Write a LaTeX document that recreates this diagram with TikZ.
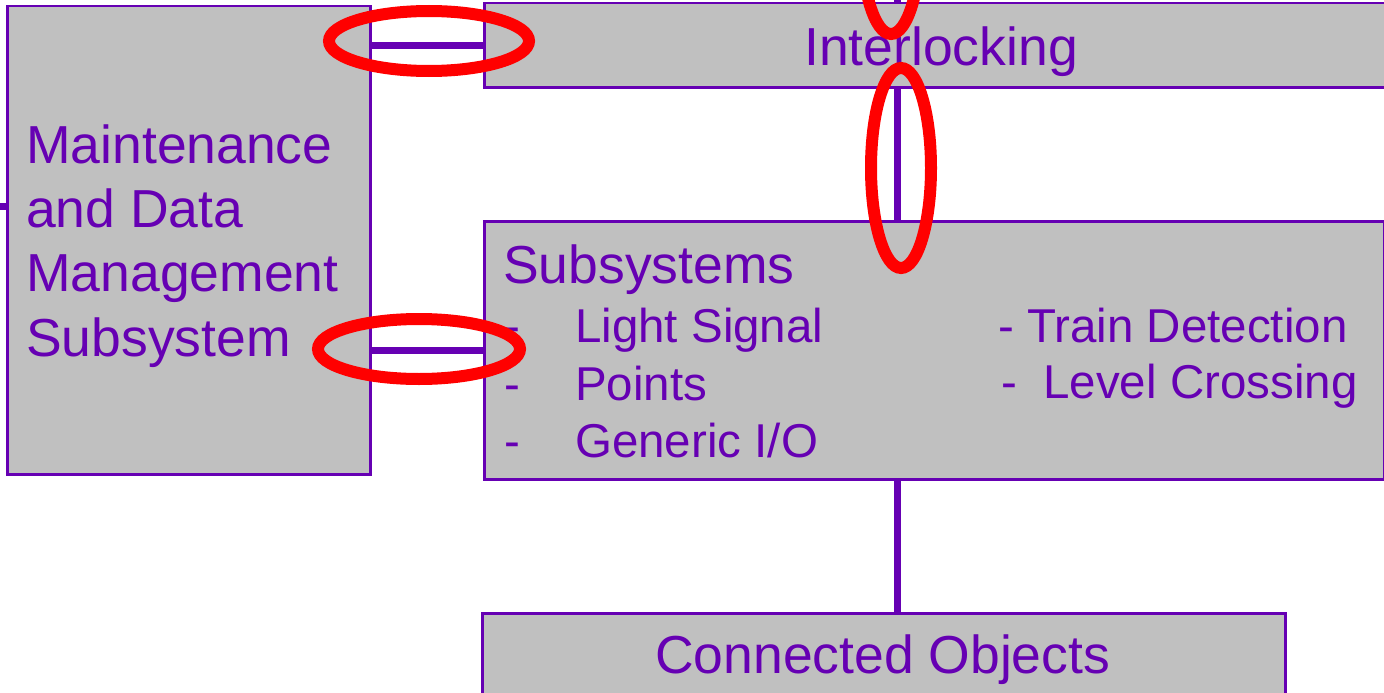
\documentclass[tikz,border=0pt]{standalone}
\usepackage{fontspec}
\setmainfont{Liberation Sans}
\usepackage{tikz}
\usetikzlibrary{positioning}
\definecolor{sigpurple}{HTML}{6600B3}
\definecolor{boxgrey}{HTML}{C0C0C0}

\begin{document}
\begin{tikzpicture}[x=1pt,y=-1pt,
	block/.style={draw=sigpurple,fill=boxgrey,line width=2.5pt,anchor=north west,inner sep=0pt},
	txt/.style={text=sigpurple,font=\fontsize{53.5}{62}\selectfont,anchor=base west,inner sep=0pt},
	itemtxt/.style={txt,font=\fontsize{47.5}{57}\selectfont},
	link/.style={draw=sigpurple,line width=7pt},
	ring/.style={draw=red,line width=12pt}]
	\useasboundingbox[fill=white] (0,0) rectangle (1384,693);

	% boxes
	\node[block,minimum width=363pt,minimum height=468pt] (mdm) at (6,5) {};
	\node[block,minimum width=930pt,minimum height=84pt] (il) at (483,2) {};
	\node[block,minimum width=900pt,minimum height=258pt] (sub) at (483,220) {};
	\node[block,minimum width=803pt,minimum height=120pt] (cobj) at (481,612) {};

	% texts
	\foreach \entry [count=\i] in {Maintenance,and Data,Management,Subsystem}
		\node[txt] (mdm-\i) at (26,{163+64.4*(\i-1)}) {\entry};
	\node[txt] (il-t) at (804,66) {Interlocking};
	\node[txt] (sub-t) at (503,283) {Subsystems};
	\foreach \yy/\entry [count=\i] in {342/{Light Signal},400/{Points},457/{Generic I/O}}{
		\node[itemtxt] (dash-\i) at (504,\yy) {-};
		\node[itemtxt] (item-\i) at (575,\yy) {\entry};
	}
	\node[itemtxt] (td) at (998,342) {- Train Detection};
	\node[itemtxt] (lc) at (1001,398) {-~~Level Crossing};
	\node[txt] (cobj-t) at (655,673) {Connected Objects};

	% connectors
	\coordinate (bus) at (897,-5);
	\coordinate (feed) at (-5,206);
	\draw[link] (mdm.east |- il.west) -- (il.west);
	\draw[link] (mdm.east |- sub.west) -- (sub.west);
	\draw[link] (bus) -- (il.north -| bus);
	\draw[link] (il.south -| bus) -- (sub.north -| bus);
	\draw[link] (sub.south -| bus) -- (cobj.north -| bus);
	\draw[link] (feed) -- (feed -| mdm.west);

	% red marks
	\draw[ring] (891,-66) ellipse [x radius=30pt, y radius=100pt];
	\draw[ring] (429,41) ellipse [x radius=100pt, y radius=30pt];
	\draw[ring] (901,168) ellipse [x radius=30pt, y radius=100pt];
	\draw[ring] (419,349) ellipse [x radius=101pt, y radius=30pt];
\end{tikzpicture}
\end{document}
